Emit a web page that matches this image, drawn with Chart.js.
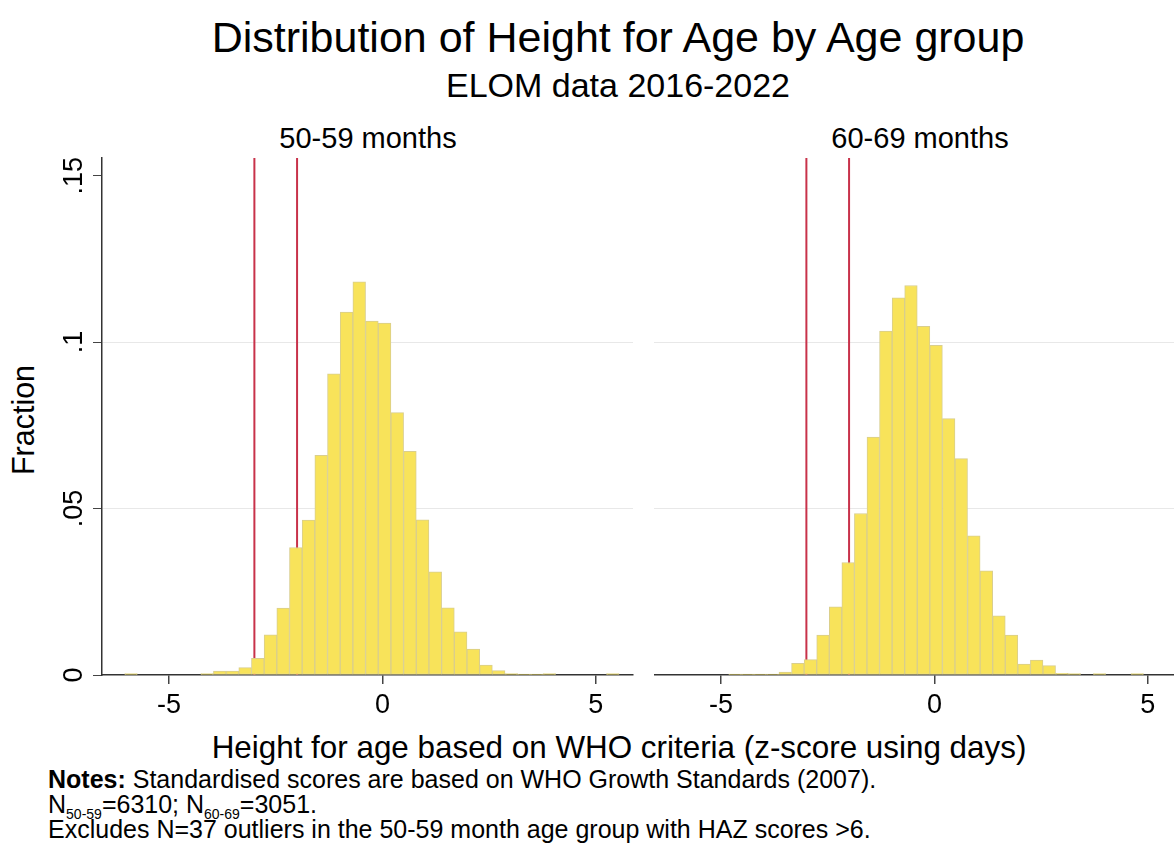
<!DOCTYPE html>
<html>
<head>
<meta charset="utf-8">
<title>Distribution of Height for Age by Age group</title>
<script src="https://cdn.jsdelivr.net/npm/chart.js@4.4.1/dist/chart.umd.min.js"></script>
<style>
  html, body { margin: 0; padding: 0; background: #fff; }
  body {
    width: 1174px; height: 844px; overflow: hidden; position: relative;
    font-family: 'Liberation Sans', Arial, Helvetica, sans-serif; color: #000;
  }
  .t { position: absolute; white-space: nowrap; line-height: 1; }
  .c { transform: translate(-50%, -50%); }
  canvas { position: absolute; }
  .notes { left: 48px; top: 767px; font-size: 25px; line-height: 25px; }
  .notes sub { font-size: 14px; vertical-align: -6px; line-height: 0; }
</style>
</head>
<body>
<div class="t c" style="left:618px; top:37px; font-size:43px;">Distribution of Height for Age by Age group</div>
<div class="t c" style="left:618px; top:85px; font-size:34px;">ELOM data 2016-2022</div>
<div class="t c" style="left:368px; top:138px; font-size:29px;">50-59 months</div>
<div class="t c" style="left:920px; top:138px; font-size:29px;">60-69 months</div>
<div class="t c" style="left:23px; top:420px; font-size:30.5px; transform: translate(-50%, -50%) rotate(-90deg);">Fraction</div>
<div class="t c" style="left:619px; top:748px; font-size:31.4px;">Height for age based on WHO criteria (z-score using days)</div>
<div class="t notes"><b>Notes:</b> Standardised scores are based on WHO Growth Standards (2007).<br>N<sub>50-59</sub>=6310; N<sub>60-69</sub>=3051.<br>Excludes N=37 outliers in the 50-59 month age group with HAZ scores &gt;6.</div>

<canvas id="chart5059" width="640" height="580" style="left:0px; top:150px;"></canvas>
<canvas id="chart6069" width="540" height="580" style="left:654px; top:150px;"></canvas>

<script>
// axes
const xTickValues = [-5, 0, 5];
const xTickLabels = ['-5', '0', '5'];
const yTickValues = [0, 0.05, 0.1, 0.15];
const yTickLabels = ['0', '.05', '.1', '.15'];
const yGridValues = [0.05, 0.1];
const xRange = [-6.57, 5.87];
const yRange = [0, 0.1553];

// stunting / severe stunting cut-offs
const cutoffs = [-3, -2];

// 50-59 months: bin midpoints and fractions
const bins5059 = [
  -5.890, -5.593, -5.296, -4.999, -4.702, -4.405, -4.108, -3.811, -3.514, -3.217,
  -2.920, -2.623, -2.326, -2.029, -1.732, -1.435, -1.138, -0.841, -0.544, -0.247,
   0.050,  0.347,  0.644,  0.941,  1.238,  1.535,  1.832,  2.129,  2.426,  2.723,
   3.020,  3.317,  3.614,  3.911,  4.208,  4.505,  4.802,  5.099,  5.396
];
const frac5059 = [
  0.0004, 0, 0, 0, 0, 0, 0.0004, 0.0012, 0.0012, 0.0022,
  0.0050, 0.0121, 0.0201, 0.0383, 0.0465, 0.0660, 0.0905, 0.1090, 0.1181, 0.1063,
  0.1057, 0.0788, 0.0672, 0.0466, 0.0310, 0.0202, 0.0130, 0.0078, 0.0030, 0.0013,
  0.0004, 0.0003, 0.0003, 0.0004, 0, 0, 0, 0, 0.0004
];

// 60-69 months: bin midpoints and fractions
const bins6069 = [
  -4.673, -4.378, -4.084, -3.789, -3.495, -3.200, -2.906, -2.611, -2.317, -2.022,
  -1.728, -1.433, -1.139, -0.844, -0.550, -0.255,  0.039,  0.334,  0.628,  0.923,
   1.217,  1.512,  1.806,  2.101,  2.395,  2.690,  2.984,  3.279,  3.573,  3.868,
   4.162,  4.457,  4.751
];
const frac6069 = [
  0.0003, 0.0003, 0.0003, 0.0003, 0.0009, 0.0035, 0.0046, 0.0120, 0.0205, 0.0338,
  0.0485, 0.0715, 0.1033, 0.1133, 0.1170, 0.1047, 0.0990, 0.0770, 0.0650, 0.0418,
  0.0313, 0.0178, 0.0120, 0.0033, 0.0045, 0.0028, 0.0005, 0.0004, 0, 0.0004,
  0, 0, 0.0004
];

const fontFamily = "'Liberation Sans', Arial, Helvetica, sans-serif";
Chart.defaults.font.family = fontFamily;
Chart.defaults.color = '#000';

// Stata draws the y labels turned on their side
const rotatedYLabels = {
    id: 'rotatedYLabels',
    afterDraw(chart, args, opts) {
        if (!opts.show) return;
        const yScale = chart.scales.y;
        const ctx = chart.ctx;
        ctx.save();
        ctx.fillStyle = '#000';
        ctx.font = '27px ' + fontFamily;
        ctx.textAlign = 'center';
        ctx.textBaseline = 'alphabetic';
        yTickValues.forEach((v, i) => {
            ctx.save();
            ctx.translate(yScale.left + 82, yScale.getPixelForValue(v));
            ctx.rotate(-Math.PI / 2);
            ctx.fillText(yTickLabels[i], 0, 0);
            ctx.restore();
        });
        ctx.restore();
    }
};

function buildPanel(canvasId, bins, fractions, showYAxis, padRight) {
    const ctx = document.getElementById(canvasId).getContext('2d');

    const cutoffLines = cutoffs.map(c => ({
        type: 'line',
        data: [{ x: c, y: yRange[0] }, { x: c, y: yRange[1] }],
        borderColor: '#c8324a',
        borderWidth: 2,
        pointRadius: 0,
        order: 2
    }));

    return new Chart(ctx, {
        type: 'bar',
        data: {
            datasets: [
                {
                    data: bins.map((b, i) => ({ x: b, y: fractions[i] })),
                    backgroundColor: '#f8e35a',
                    borderColor: '#d9ce8e',
                    borderWidth: 1,
                    borderSkipped: false,
                    barPercentage: 1,
                    categoryPercentage: 1,
                    order: 1
                },
                ...cutoffLines
            ]
        },
        options: {
            responsive: false,
            animation: false,
            devicePixelRatio: 1,
            layout: { padding: { top: 8, right: padRight, left: 0, bottom: 0 } },
            plugins: {
                legend: { display: false },
                tooltip: { enabled: false },
                rotatedYLabels: { show: showYAxis }
            },
            scales: {
                x: {
                    type: 'linear',
                    min: xRange[0],
                    max: xRange[1],
                    offset: false,
                    afterBuildTicks: (scale) => {
                        scale.ticks = xTickValues.map(v => ({ value: v }));
                    },
                    afterFit: (scale) => { scale.height = 55; },
                    ticks: {
                        autoSkip: false,
                        maxRotation: 0,
                        padding: 5,
                        color: '#000',
                        font: { size: 27 },
                        callback: (value, index) => xTickLabels[index]
                    },
                    grid: {
                        offset: false,
                        drawOnChartArea: false,
                        drawTicks: true,
                        tickLength: 9,
                        color: '#444',
                        lineWidth: 1.5
                    },
                    border: { display: true, color: '#333', width: 1.5 }
                },
                y: {
                    type: 'linear',
                    min: yRange[0],
                    max: yRange[1],
                    afterBuildTicks: (scale) => {
                        scale.ticks = yTickValues.map(v => ({ value: v }));
                    },
                    afterFit: (scale) => { scale.width = showYAxis ? 102 : 0; },
                    ticks: { display: false },
                    grid: {
                        color: (c) => (c.tick && yGridValues.includes(c.tick.value)) ? '#e8e8e8' : 'rgba(0,0,0,0)',
                        tickColor: '#444',
                        drawTicks: showYAxis,
                        tickLength: 9,
                        lineWidth: 1
                    },
                    border: { display: showYAxis, color: '#333', width: 1.5 }
                }
            }
        },
        plugins: [rotatedYLabels]
    });
}

buildPanel('chart5059', bins5059, frac5059, true, 7);
buildPanel('chart6069', bins6069, frac6069, false, 9);
</script>
</body>
</html>
